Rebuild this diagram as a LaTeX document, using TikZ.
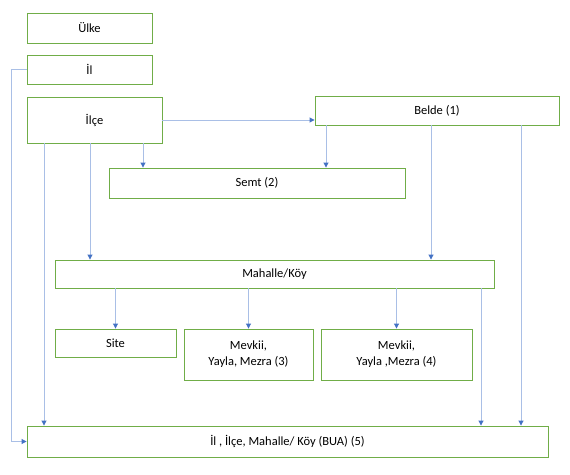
\documentclass[tikz,border=0pt]{standalone}
\usepackage{fontspec}
\setmainfont{Carlito}
\usetikzlibrary{arrows.meta, positioning}
\definecolor{boxgreen}{HTML}{70AD47}
\definecolor{linkblue}{HTML}{A9BFE6}
\definecolor{tipblue}{HTML}{4472C4}

\begin{document}
\begin{tikzpicture}[x=1pt, y=-1pt,
  box/.style={rectangle, draw=boxgreen, line width=0.9pt, fill=white, align=center, font=\fontsize{12.5}{16}\selectfont, inner sep=0pt},
  arr/.style={-{Triangle[length=5pt, width=5pt, color=tipblue]}, linkblue, line width=0.9pt}]
\useasboundingbox (0,0) rectangle (570,474);
\node[box, minimum width=125pt, minimum height=30pt] (ulke) at (89.5, 28) {Ülke};
\node[box, minimum width=125pt, minimum height=29pt] (il) at (89.5, 69.5) {İl};
\node[box, minimum width=135pt, minimum height=46pt] (ilce) at (94.5, 120) {İlçe};
\node[box, minimum width=244pt, minimum height=29pt] (belde) at (437, 110.5) {Belde (1)};
\node[box, minimum width=296pt, minimum height=30pt] (semt) at (257, 183) {Semt (2)};
\node[box, minimum width=439pt, minimum height=28pt] (mahalle) at (274.5, 274) {Mahalle/Köy};
\node[box, minimum width=121pt, minimum height=28pt] (site) at (115.5, 343) {Site};
\node[box, minimum width=129pt, minimum height=51pt] (mevkiia) at (248.5, 354.5) {Mevkii,\\Yayla, Mezra (3)};
\node[box, minimum width=151pt, minimum height=51pt] (mevkiib) at (396.5, 354.5) {Mevkii,\\Yayla ,Mezra (4)};
\node[box, minimum width=521pt, minimum height=31pt] (bua) at (287.5, 441.5) {İl , İlçe, Mahalle/ Köy (BUA) (5)};
% il to BUA round the left side
\draw[arr] (il.west) -- ++(-15,0) |- (bua.west);
% from ilce
\draw[arr] (ilce.east) -- (belde.west |- ilce.east);
\draw[arr] (ilce.south -| 44,0) -- (bua.north -| 44,0);
\draw[arr] (ilce.south -| 90,0) -- (mahalle.north -| 90,0);
\draw[arr] (ilce.south -| 143,0) -- (semt.north -| 143,0);
% from belde
\draw[arr] (belde.south -| 326,0) -- (semt.north -| 326,0);
\draw[arr] (belde.south -| 431,0) -- (mahalle.north -| 431,0);
\draw[arr] (belde.south -| 521,0) -- (bua.north -| 521,0);
% from mahalle
\draw[arr] (mahalle.south -| site.north) -- (site.north);
\draw[arr] (mahalle.south -| mevkiia.north) -- (mevkiia.north);
\draw[arr] (mahalle.south -| mevkiib.north) -- (mevkiib.north);
\draw[arr] (mahalle.south -| 481,0) -- (bua.north -| 481,0);
\end{tikzpicture}
\end{document}
